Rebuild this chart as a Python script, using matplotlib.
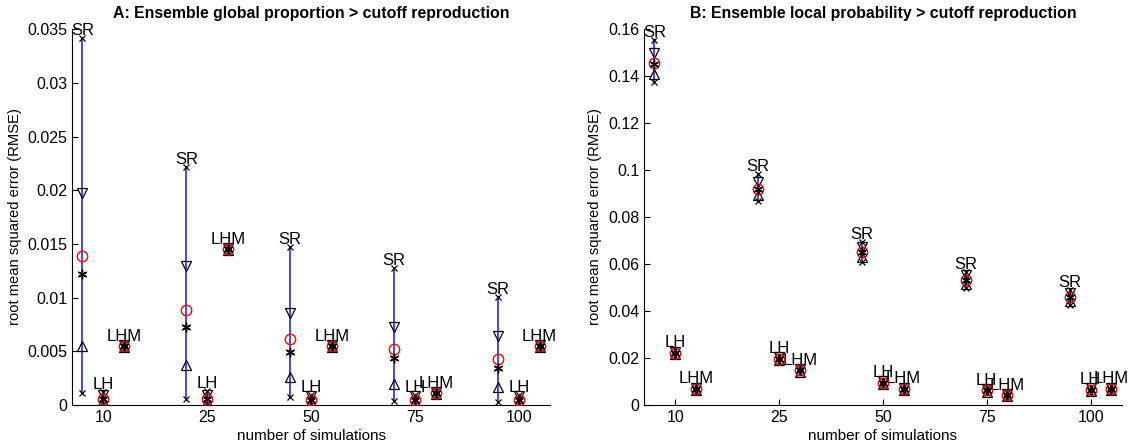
import numpy as np, matplotlib
matplotlib.use("Agg")
import matplotlib.pyplot as plt

plt.rcParams['font.family'] = ['Liberation Sans', 'DejaVu Sans']

nsim = ['10', '25', '50', '75', '100']
methods = ['SR', 'LH', 'LHM']

# A: global proportion > cutoff, per method: min, 5%, median, mean, 95%, max
a_sr = dict(lo=[0.0011, 0.0006, 0.0007, 0.0004, 0.0003],
            p5=[0.0055, 0.0037, 0.0026, 0.0020, 0.0017],
            med=[0.0122, 0.0073, 0.0049, 0.0044, 0.0034],
            mean=[0.0139, 0.0088, 0.0061, 0.0052, 0.0043],
            p95=[0.0197, 0.0129, 0.0086, 0.0073, 0.0064],
            hi=[0.0342, 0.0222, 0.0147, 0.0128, 0.0101])
a_lh = dict(lo=[0.0001, 0.0001, 0.0001, 0.0001, 0.0001],
            p5=[0.0004, 0.0003, 0.0003, 0.0003, 0.0003],
            med=[0.0006, 0.0006, 0.0005, 0.0005, 0.0005],
            mean=[0.0006, 0.0006, 0.0005, 0.0005, 0.0005],
            p95=[0.0009, 0.0009, 0.0008, 0.0008, 0.0008],
            hi=[0.0012, 0.0013, 0.0009, 0.0009, 0.0009])
a_lhm = dict(lo=[0.0053, 0.0143, 0.0053, 0.0009, 0.0053],
             p5=[0.0054, 0.0144, 0.0054, 0.0010, 0.0054],
             med=[0.0055, 0.0145, 0.0055, 0.0011, 0.0055],
             mean=[0.0055, 0.0145, 0.0055, 0.0011, 0.0055],
             p95=[0.0056, 0.0146, 0.0056, 0.0012, 0.0056],
             hi=[0.0057, 0.0147, 0.0057, 0.0013, 0.0057])

# B: local probability > cutoff
b_sr = dict(lo=[0.1373, 0.0867, 0.0609, 0.0496, 0.0427],
            p5=[0.1410, 0.0893, 0.0630, 0.0513, 0.0443],
            med=[0.1450, 0.0920, 0.0650, 0.0532, 0.0459],
            mean=[0.1455, 0.0920, 0.0652, 0.0534, 0.0460],
            p95=[0.1500, 0.0950, 0.0673, 0.0552, 0.0477],
            hi=[0.1555, 0.0983, 0.0694, 0.0566, 0.0488])
b_lh = dict(lo=[0.0209, 0.0185, 0.0083, 0.0050, 0.0053],
            p5=[0.0215, 0.0191, 0.0089, 0.0056, 0.0059],
            med=[0.0221, 0.0197, 0.0095, 0.0062, 0.0065],
            mean=[0.0221, 0.0197, 0.0095, 0.0062, 0.0065],
            p95=[0.0227, 0.0203, 0.0101, 0.0068, 0.0071],
            hi=[0.0233, 0.0209, 0.0107, 0.0074, 0.0077])
b_lhm = dict(lo=[0.0059, 0.0137, 0.0059, 0.0033, 0.0059],
             p5=[0.0064, 0.0142, 0.0064, 0.0038, 0.0064],
             med=[0.0069, 0.0147, 0.0069, 0.0043, 0.0069],
             mean=[0.0069, 0.0147, 0.0069, 0.0043, 0.0069],
             p95=[0.0074, 0.0152, 0.0074, 0.0048, 0.0074],
             hi=[0.0079, 0.0157, 0.0079, 0.0053, 0.0079])

a_yticks = [0, 0.005, 0.01, 0.015, 0.02, 0.025, 0.03, 0.035]
a_ylabels = ['0', '0.005', '0.01', '0.015', '0.02', '0.025', '0.03', '0.035']
b_yticks = [0, 0.02, 0.04, 0.06, 0.08, 0.1, 0.12, 0.14, 0.16]
b_ylabels = ['0', '0.02', '0.04', '0.06', '0.08', '0.1', '0.12', '0.14', '0.16']

offsets = {'SR': -0.2, 'LH': 0.0, 'LHM': 0.2}
blue = '#4646ff'
asterisk = (6, 2, 0)


def draw(ax, groups, yticks, ylabels, title):
    base = np.arange(1, len(nsim) + 1)
    for name, g in zip(methods, groups):
        x = base + offsets[name]
        for i in range(len(x)):
            ax.plot([x[i], x[i]], [g['lo'][i], g['hi'][i]], color=blue, lw=1.4, zorder=2)
        ax.plot(x, g['lo'], 'x', color='k', ms=5, mew=0.9, zorder=3)
        ax.plot(x, g['hi'], 'x', color='k', ms=5, mew=0.9, zorder=3)
        ax.plot(x, g['p95'], 'v', mfc='none', mec='k', ms=7, mew=0.9, zorder=3)
        ax.plot(x, g['p5'], '^', mfc='none', mec='k', ms=7, mew=0.9, zorder=3)
        ax.plot(x, g['mean'], 'o', mfc='none', mec='red', ms=7.5, mew=1.0, zorder=4)
        ax.plot(x, g['med'], ls='none', marker=asterisk, color='k', ms=7, mew=1.0, zorder=4)
        for i in range(len(x)):
            ax.text(x[i], g['hi'][i], name, ha='center', va='bottom', fontsize=12)
    ax.set_xlim(0.7, 5.3)
    ax.set_ylim(yticks[0], yticks[-1])
    ax.set_xticks(base)
    ax.set_xticklabels(nsim)
    ax.set_yticks(yticks)
    ax.set_yticklabels(ylabels)
    ax.tick_params(direction='in', length=4, labelsize=11.5)
    ax.spines['top'].set_visible(False)
    ax.spines['right'].set_visible(False)
    ax.set_xlabel('number of simulations', fontsize=11, labelpad=3)
    ax.set_ylabel('root mean squared error (RMSE)', fontsize=10.6)
    ax.set_title(title, fontsize=11.4, fontweight='bold', pad=8)


fig = plt.figure(figsize=(11.31, 4.48), dpi=100)
ax1 = fig.add_axes([0.0637, 0.096, 0.4226, 0.839])
ax2 = fig.add_axes([0.5694, 0.096, 0.4224, 0.839])
draw(ax1, [a_sr, a_lh, a_lhm], a_yticks, a_ylabels,
     'A: Ensemble global proportion > cutoff reproduction')
draw(ax2, [b_sr, b_lh, b_lhm], b_yticks, b_ylabels,
     'B: Ensemble local probability > cutoff reproduction')
fig.savefig('out.png', dpi=100)
